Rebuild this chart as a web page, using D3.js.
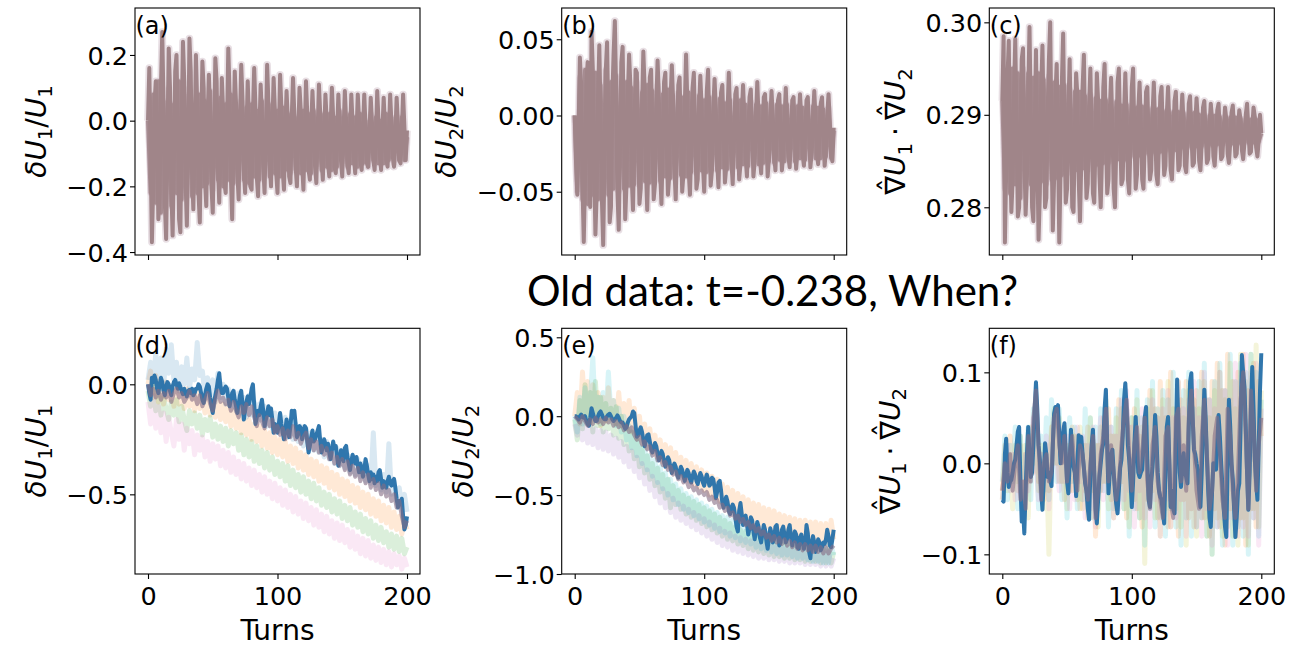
<!DOCTYPE html>
<html><head><meta charset="utf-8">
<script src="https://cdn.jsdelivr.net/npm/d3@7"></script>
<style>body{margin:0;background:#fff}svg{display:block}</style>
</head><body>
<svg id="chart" width="1310" height="646"></svg>
<script>
// ---------------- DATA ----------------
const titleText = "Old data: t=-0.238, When?";
const turnsEvery1 = d3.range(0, 201);
const turnsEvery2 = d3.range(0, 201, 2);
const xTickValues = [0, 100, 200];

const aTicks = [0.2, 0.0, -0.2, -0.4];   const aTickLabels = ["0.2", "0.0", "\u22120.2", "\u22120.4"];
const bTicks = [0.05, 0.0, -0.05];       const bTickLabels = ["0.05", "0.00", "\u22120.05"];
const cTicks = [0.30, 0.29, 0.28];       const cTickLabels = ["0.30", "0.29", "0.28"];
const dTicks = [0.0, -0.5];              const dTickLabels = ["0.0", "\u22120.5"];
const eTicks = [0.5, 0.0, -0.5, -1.0];   const eTickLabels = ["0.5", "0.0", "\u22120.5", "\u22121.0"];
const fTicks = [0.1, 0.0, -0.1];         const fTickLabels = ["0.1", "0.0", "\u22120.1"];

// (a) dU1/U1, upper row (every turn)
const aMain = [
0.00,0.16,-0.10,-0.37,-0.20,0.05,0.12,-0.05,-0.30,-0.22,
0.10,0.27,0.05,-0.25,-0.36,-0.08,0.22,0.10,-0.20,-0.35,
-0.12,0.15,0.20,-0.02,-0.30,-0.34,0.00,0.24,0.12,-0.18,
-0.32,-0.10,0.25,0.15,-0.15,-0.27,-0.05,0.20,0.05,-0.22,
-0.31,-0.05,0.18,0.10,-0.18,-0.26,0.00,0.14,0.02,-0.20,
-0.28,-0.06,0.19,0.12,-0.14,-0.25,-0.08,0.13,0.03,-0.19,
-0.22,-0.02,0.22,0.08,-0.17,-0.30,-0.05,0.15,0.05,-0.16,
-0.24,0.00,0.17,0.06,-0.15,-0.22,-0.04,0.12,0.00,-0.20,
-0.21,0.02,0.16,0.04,-0.17,-0.23,-0.03,0.11,0.01,-0.14,
-0.22,-0.04,0.17,0.05,-0.13,-0.20,-0.02,0.13,0.03,-0.16,
-0.22,-0.05,0.14,0.04,-0.15,-0.21,-0.03,0.09,0.00,-0.17,
-0.19,0.01,0.13,0.02,-0.14,-0.20,-0.04,0.10,0.03,-0.13,
-0.21,-0.05,0.12,0.02,-0.15,-0.18,-0.02,0.09,-0.01,-0.14,
-0.19,-0.03,0.11,0.02,-0.12,-0.18,-0.05,0.08,0.00,-0.13,
-0.17,-0.02,0.10,0.01,-0.14,-0.16,-0.04,0.08,-0.02,-0.12,
-0.17,-0.03,0.09,0.00,-0.13,-0.16,-0.05,0.08,-0.01,-0.11,
-0.16,-0.04,0.08,0.00,-0.12,-0.15,-0.03,0.08,-0.02,-0.13,
-0.14,-0.04,0.07,-0.01,-0.12,-0.15,-0.05,0.09,0.00,-0.10,
-0.15,-0.03,0.07,-0.02,-0.12,-0.14,-0.04,0.08,-0.01,-0.11,
-0.14,-0.04,0.07,-0.01,-0.12,-0.13,-0.03,0.08,-0.02,-0.12,
-0.03];
// (a) other runs (every 2 turns)
const aRun2 = [
0.00,-0.22,0.08,-0.25,0.12,-0.28,0.06,-0.20,0.10,-0.26,
0.05,-0.22,0.12,-0.24,0.08,-0.20,0.10,-0.23,0.04,-0.22,
0.08,-0.20,0.06,-0.19,0.09,-0.21,0.04,-0.18,0.07,-0.20,
0.05,-0.18,0.08,-0.19,0.03,-0.17,0.06,-0.18,0.04,-0.19,
0.05,-0.17,0.03,-0.18,0.06,-0.16,0.02,-0.17,0.05,-0.16,
0.03,-0.17,0.04,-0.15,0.02,-0.16,0.04,-0.15,0.01,-0.16,
0.03,-0.15,0.02,-0.16,0.03,-0.14,0.01,-0.15,0.02,-0.14,
0.02,-0.15,0.01,-0.14,0.03,-0.13,0.00,-0.14,0.02,-0.13,
0.01,-0.14,0.02,-0.13,0.00,-0.14,0.02,-0.12,0.01,-0.13,
0.00,-0.13,0.02,-0.12,0.01,-0.13,0.00,-0.12,0.01,-0.12,
-0.05];

// (b) dU2/U2, upper row
const bMain = [
0.000,-0.030,-0.052,-0.010,0.038,0.020,-0.045,-0.083,-0.040,0.020,
0.035,-0.010,-0.060,0.055,0.030,-0.030,-0.078,-0.050,0.010,0.046,
0.000,-0.055,-0.085,-0.030,0.030,0.048,-0.005,-0.070,-0.060,0.010,
0.040,0.062,0.015,-0.050,-0.075,-0.020,0.035,0.045,-0.010,-0.068,
-0.045,0.012,0.040,0.020,-0.040,-0.062,-0.020,0.030,0.028,-0.015,
-0.058,-0.048,0.005,0.042,0.018,-0.035,-0.062,-0.025,0.025,0.030,
-0.012,-0.055,-0.045,0.008,0.036,0.012,-0.038,-0.058,-0.020,0.022,
0.028,-0.015,-0.052,-0.040,0.010,0.033,0.010,-0.035,-0.055,-0.018,
0.020,0.025,-0.012,-0.050,-0.038,0.006,0.040,0.008,-0.036,-0.052,
-0.022,0.018,0.028,-0.010,-0.048,-0.042,0.004,0.026,0.006,-0.032,
-0.050,-0.020,0.016,0.030,-0.008,-0.046,-0.036,0.004,0.024,0.004,
-0.030,-0.047,-0.018,0.015,0.020,-0.010,-0.044,-0.034,0.002,0.028,
0.002,-0.030,-0.045,-0.016,0.014,0.018,-0.012,-0.042,-0.032,0.000,
0.020,0.000,-0.028,-0.040,-0.015,0.012,0.017,-0.012,-0.040,-0.030,
0.000,0.022,-0.002,-0.028,-0.038,-0.014,0.012,0.014,-0.012,-0.040,
-0.028,-0.002,0.016,-0.002,-0.026,-0.036,-0.012,0.010,0.014,-0.012,
-0.036,-0.026,-0.002,0.018,-0.004,-0.027,-0.034,-0.012,0.010,0.012,
-0.012,-0.035,-0.024,-0.002,0.014,-0.002,-0.026,-0.033,-0.010,0.010,
0.012,-0.012,-0.034,-0.024,-0.002,0.016,-0.002,-0.025,-0.032,-0.012,
0.008,0.012,-0.012,-0.033,-0.022,0.000,0.014,-0.004,-0.026,-0.030,
-0.008];
const bRun2 = [
0.000,-0.050,0.025,-0.055,0.030,-0.058,0.022,-0.052,0.028,-0.055,
0.020,-0.050,0.030,-0.052,0.022,-0.048,0.026,-0.050,0.018,-0.048,
0.022,-0.046,0.018,-0.045,0.022,-0.046,0.015,-0.043,0.020,-0.044,
0.016,-0.042,0.020,-0.043,0.014,-0.040,0.017,-0.041,0.013,-0.040,
0.015,-0.039,0.012,-0.040,0.015,-0.037,0.010,-0.038,0.013,-0.036,
0.010,-0.037,0.012,-0.035,0.009,-0.036,0.011,-0.034,0.008,-0.035,
0.010,-0.033,0.008,-0.034,0.010,-0.032,0.007,-0.033,0.009,-0.031,
0.007,-0.032,0.006,-0.031,0.008,-0.030,0.005,-0.031,0.007,-0.029,
0.006,-0.030,0.007,-0.029,0.005,-0.030,0.006,-0.028,0.005,-0.029,
0.004,-0.029,0.006,-0.028,0.005,-0.028,0.004,-0.027,0.005,-0.028,
-0.010];

// (c) gradU1 . gradU2, upper row
const cMain = [
0.2915,0.2985,0.2762,0.2840,0.2940,0.2980,0.2860,0.2795,0.2830,0.2920,
0.2982,0.2890,0.2790,0.2800,0.2880,0.2960,0.2972,0.2860,0.2792,0.2830,
0.2920,0.2995,0.2900,0.2800,0.2785,0.2880,0.2970,0.2860,0.2765,0.2815,
0.2925,0.2975,0.2890,0.2800,0.2810,0.2900,0.2960,0.3000,0.2870,0.2775,
0.2830,0.2920,0.2955,0.2870,0.2762,0.2840,0.2935,0.2988,0.2880,0.2805,
0.2820,0.2905,0.2960,0.2885,0.2800,0.2795,0.2880,0.2945,0.2920,0.2830,
0.2785,0.2850,0.2930,0.2965,0.2870,0.2810,0.2825,0.2910,0.2950,0.2880,
0.2815,0.2805,0.2875,0.2945,0.2915,0.2835,0.2800,0.2855,0.2930,0.2955,
0.2875,0.2815,0.2830,0.2905,0.2940,0.2890,0.2820,0.2800,0.2865,0.2935,
0.2950,0.2880,0.2825,0.2830,0.2900,0.2945,0.2895,0.2830,0.2815,0.2870,
0.2930,0.2950,0.2880,0.2820,0.2835,0.2905,0.2935,0.2890,0.2830,0.2820,
0.2870,0.2925,0.2930,0.2870,0.2830,0.2840,0.2900,0.2935,0.2890,0.2835,
0.2825,0.2870,0.2920,0.2930,0.2875,0.2835,0.2845,0.2900,0.2930,0.2890,
0.2840,0.2830,0.2870,0.2915,0.2925,0.2880,0.2840,0.2845,0.2895,0.2922,
0.2890,0.2845,0.2838,0.2870,0.2912,0.2920,0.2880,0.2845,0.2848,0.2890,
0.2918,0.2895,0.2850,0.2840,0.2870,0.2908,0.2915,0.2880,0.2848,0.2852,
0.2888,0.2912,0.2895,0.2855,0.2845,0.2870,0.2905,0.2912,0.2880,0.2852,
0.2855,0.2885,0.2908,0.2895,0.2858,0.2848,0.2870,0.2902,0.2910,0.2882,
0.2855,0.2858,0.2885,0.2905,0.2895,0.2862,0.2852,0.2870,0.2900,0.2912,
0.2885,0.2858,0.2860,0.2885,0.2908,0.2898,0.2865,0.2855,0.2872,0.2900,
0.2880];
const cRun2 = [
0.2915,0.2820,0.2940,0.2815,0.2950,0.2825,0.2945,0.2810,0.2950,0.2820,
0.2945,0.2825,0.2940,0.2820,0.2945,0.2828,0.2938,0.2825,0.2942,0.2830,
0.2935,0.2832,0.2930,0.2835,0.2932,0.2838,0.2928,0.2836,0.2925,0.2840,
0.2925,0.2842,0.2920,0.2840,0.2922,0.2845,0.2918,0.2846,0.2915,0.2848,
0.2916,0.2848,0.2913,0.2850,0.2914,0.2852,0.2910,0.2851,0.2911,0.2854,
0.2910,0.2855,0.2908,0.2856,0.2909,0.2858,0.2906,0.2857,0.2907,0.2859,
0.2906,0.2860,0.2904,0.2861,0.2905,0.2862,0.2903,0.2862,0.2903,0.2864,
0.2902,0.2864,0.2901,0.2865,0.2902,0.2866,0.2900,0.2866,0.2900,0.2867,
0.2899,0.2867,0.2899,0.2868,0.2898,0.2868,0.2898,0.2869,0.2897,0.2869,
0.2897,0.2869,0.2896,0.2870,0.2896,0.2870,0.2895,0.2870,0.2895,0.2871,
0.2880];

// (d) dU1/U1, lower row: highlighted run (every turn)
const dBlue = [
0.000,-0.040,-0.070,0.030,0.010,0.040,0.020,-0.020,-0.040,0.000,
0.030,0.010,-0.030,-0.050,-0.010,0.010,0.000,-0.030,-0.050,-0.010,
0.010,0.020,0.000,-0.020,0.005,-0.010,-0.030,-0.045,-0.020,-0.040,
-0.055,-0.030,-0.025,-0.040,-0.020,-0.050,-0.040,-0.020,-0.020,0.000,
-0.010,-0.040,-0.070,-0.085,-0.050,-0.020,0.000,-0.010,-0.060,-0.100,
-0.130,-0.080,-0.050,-0.020,0.020,0.050,-0.010,-0.040,-0.040,-0.020,
-0.010,-0.020,-0.060,-0.100,-0.070,-0.040,-0.030,-0.070,-0.100,-0.130,
-0.090,-0.050,-0.030,-0.090,-0.160,-0.120,-0.080,-0.055,-0.090,-0.060,
-0.020,0.000,-0.090,-0.180,-0.150,-0.120,-0.140,-0.100,-0.070,-0.120,
-0.190,-0.160,-0.130,-0.100,-0.140,-0.110,-0.160,-0.220,-0.180,-0.200,
-0.220,-0.180,-0.130,-0.180,-0.220,-0.250,-0.210,-0.160,-0.200,-0.240,
-0.190,-0.120,-0.150,-0.120,-0.180,-0.240,-0.220,-0.190,-0.200,-0.250,
-0.220,-0.190,-0.200,-0.260,-0.310,-0.280,-0.240,-0.210,-0.260,-0.250,
-0.230,-0.210,-0.190,-0.260,-0.310,-0.280,-0.250,-0.270,-0.300,-0.270,
-0.310,-0.340,-0.300,-0.260,-0.290,-0.280,-0.330,-0.370,-0.340,-0.300,
-0.310,-0.350,-0.290,-0.280,-0.330,-0.360,-0.390,-0.350,-0.320,-0.340,
-0.360,-0.330,-0.370,-0.400,-0.360,-0.380,-0.420,-0.390,-0.340,-0.370,
-0.410,-0.440,-0.400,-0.430,-0.410,-0.450,-0.420,-0.440,-0.400,-0.390,
-0.430,-0.470,-0.440,-0.460,-0.470,-0.440,-0.420,-0.450,-0.460,-0.440,
-0.430,-0.470,-0.520,-0.560,-0.530,-0.540,-0.520,-0.600,-0.660,-0.640,
-0.600];
// (d) other runs (every 2 turns)
const dMauve = [
0.00,-0.05,-0.02,-0.06,-0.03,-0.07,-0.04,-0.06,-0.03,-0.08,
-0.04,-0.02,-0.06,-0.04,-0.08,-0.06,-0.03,-0.07,-0.05,-0.09,
-0.05,-0.10,-0.07,-0.04,-0.09,-0.12,-0.07,-0.03,-0.08,-0.06,
-0.09,-0.07,-0.12,-0.08,-0.12,-0.15,-0.10,-0.13,-0.09,-0.14,
-0.10,-0.15,-0.19,-0.14,-0.17,-0.20,-0.15,-0.19,-0.16,-0.22,
-0.19,-0.23,-0.20,-0.25,-0.21,-0.24,-0.19,-0.25,-0.22,-0.27,
-0.24,-0.22,-0.29,-0.25,-0.30,-0.26,-0.31,-0.28,-0.32,-0.29,
-0.34,-0.31,-0.36,-0.33,-0.37,-0.34,-0.39,-0.35,-0.41,-0.37,
-0.42,-0.38,-0.44,-0.40,-0.45,-0.41,-0.47,-0.43,-0.48,-0.45,
-0.50,-0.46,-0.51,-0.48,-0.53,-0.50,-0.56,-0.53,-0.60,-0.65,
-0.62];
const dOrange = [
0.00,0.06,-0.06,0.04,-0.08,0.02,-0.09,0.01,-0.07,-0.01,
-0.10,-0.02,-0.09,-0.03,-0.11,-0.02,-0.10,-0.04,-0.12,-0.03,
-0.11,-0.05,-0.13,-0.06,-0.14,-0.07,-0.15,-0.08,-0.16,-0.09,
-0.17,-0.10,-0.19,-0.12,-0.20,-0.13,-0.22,-0.15,-0.23,-0.16,
-0.25,-0.18,-0.26,-0.19,-0.28,-0.21,-0.29,-0.22,-0.31,-0.24,
-0.32,-0.25,-0.33,-0.26,-0.35,-0.28,-0.36,-0.29,-0.38,-0.31,
-0.39,-0.32,-0.41,-0.34,-0.42,-0.35,-0.44,-0.37,-0.45,-0.38,
-0.47,-0.40,-0.48,-0.41,-0.50,-0.43,-0.51,-0.44,-0.53,-0.46,
-0.54,-0.47,-0.56,-0.49,-0.57,-0.50,-0.59,-0.52,-0.60,-0.53,
-0.62,-0.55,-0.63,-0.56,-0.65,-0.58,-0.66,-0.60,-0.68,-0.62,
-0.66];
const dGreen = [
-0.03,-0.10,0.00,-0.12,-0.04,-0.14,-0.06,-0.11,-0.16,-0.08,
-0.14,-0.07,-0.17,-0.10,-0.16,-0.21,-0.12,-0.18,-0.13,-0.20,
-0.14,-0.23,-0.16,-0.21,-0.15,-0.24,-0.18,-0.25,-0.19,-0.26,
-0.20,-0.28,-0.21,-0.27,-0.22,-0.30,-0.23,-0.32,-0.25,-0.33,
-0.26,-0.35,-0.28,-0.36,-0.30,-0.38,-0.31,-0.39,-0.33,-0.41,
-0.35,-0.42,-0.36,-0.44,-0.37,-0.46,-0.39,-0.47,-0.41,-0.49,
-0.42,-0.50,-0.44,-0.52,-0.45,-0.53,-0.47,-0.55,-0.49,-0.56,
-0.50,-0.58,-0.52,-0.59,-0.53,-0.61,-0.55,-0.62,-0.56,-0.64,
-0.58,-0.65,-0.59,-0.67,-0.61,-0.68,-0.62,-0.70,-0.64,-0.71,
-0.65,-0.72,-0.67,-0.74,-0.68,-0.75,-0.69,-0.76,-0.70,-0.77,
-0.74];
const dPink = [
-0.08,-0.18,-0.05,-0.20,-0.10,-0.22,-0.13,-0.26,-0.15,-0.22,
-0.28,-0.16,-0.25,-0.18,-0.30,-0.20,-0.27,-0.21,-0.32,-0.23,
-0.30,-0.24,-0.33,-0.26,-0.35,-0.27,-0.34,-0.28,-0.37,-0.30,
-0.38,-0.31,-0.40,-0.33,-0.41,-0.35,-0.43,-0.36,-0.44,-0.38,
-0.46,-0.39,-0.47,-0.41,-0.49,-0.42,-0.50,-0.44,-0.52,-0.45,
-0.53,-0.47,-0.55,-0.48,-0.56,-0.50,-0.58,-0.51,-0.59,-0.53,
-0.61,-0.54,-0.62,-0.56,-0.64,-0.57,-0.65,-0.59,-0.67,-0.60,
-0.68,-0.62,-0.70,-0.63,-0.71,-0.64,-0.72,-0.66,-0.74,-0.67,
-0.75,-0.69,-0.77,-0.70,-0.78,-0.71,-0.79,-0.73,-0.80,-0.74,
-0.81,-0.75,-0.82,-0.76,-0.83,-0.77,-0.82,-0.78,-0.84,-0.79,
-0.83];
const dLightBlue = [
0.02,0.10,0.00,0.14,0.03,0.12,-0.02,0.16,0.05,0.18,
0.02,0.10,-0.03,0.08,0.00,0.12,-0.02,0.07,0.02,0.19,
0.04,0.06,-0.05,0.03,-0.04,0.02,-0.08,0.05,-0.06,0.00,
-0.09,-0.02,-0.10,-0.03,-0.12,-0.04,-0.13,-0.06,-0.15,-0.05,
-0.14,-0.08,-0.17,-0.09,-0.16,-0.10,-0.19,-0.11,-0.20,-0.13,
-0.21,-0.14,-0.22,-0.15,-0.24,-0.16,-0.25,-0.18,-0.26,-0.19,
-0.28,-0.20,-0.29,-0.22,-0.30,-0.23,-0.31,-0.25,-0.33,-0.26,
-0.34,-0.28,-0.36,-0.29,-0.37,-0.30,-0.38,-0.32,-0.40,-0.33,
-0.41,-0.34,-0.42,-0.36,-0.44,-0.37,-0.45,-0.22,-0.46,-0.40,
-0.48,-0.41,-0.49,-0.27,-0.50,-0.44,-0.53,-0.47,-0.55,-0.50,
-0.58];

// (e) dU2/U2, lower row
const eBlue = [
0.000,0.000,-0.010,-0.020,0.000,0.010,-0.005,-0.010,0.000,-0.030,
-0.050,-0.060,-0.010,0.050,0.020,-0.010,-0.030,-0.030,0.000,0.020,
0.030,0.010,-0.010,-0.020,-0.020,0.000,0.010,0.015,0.000,-0.020,
-0.030,-0.020,-0.010,0.005,-0.010,-0.030,-0.040,-0.040,-0.060,-0.080,
-0.070,-0.040,-0.020,-0.010,0.000,0.030,0.020,-0.060,-0.130,-0.120,
-0.090,-0.070,-0.100,-0.150,-0.190,-0.160,-0.120,-0.115,-0.160,-0.210,
-0.230,-0.200,-0.170,-0.190,-0.240,-0.280,-0.250,-0.220,-0.240,-0.290,
-0.320,-0.290,-0.260,-0.280,-0.330,-0.360,-0.320,-0.300,-0.320,-0.370,
-0.390,-0.350,-0.320,-0.340,-0.380,-0.410,-0.370,-0.340,-0.360,-0.400,
-0.420,-0.380,-0.350,-0.370,-0.410,-0.430,-0.390,-0.360,-0.380,-0.420,
-0.440,-0.400,-0.370,-0.400,-0.440,-0.430,-0.390,-0.400,-0.450,-0.520,
-0.480,-0.420,-0.410,-0.470,-0.550,-0.580,-0.540,-0.510,-0.540,-0.600,
-0.620,-0.580,-0.560,-0.580,-0.640,-0.700,-0.730,-0.600,-0.550,-0.620,
-0.690,-0.660,-0.630,-0.680,-0.750,-0.710,-0.640,-0.660,-0.730,-0.780,
-0.720,-0.670,-0.700,-0.770,-0.800,-0.740,-0.690,-0.720,-0.790,-0.840,
-0.770,-0.710,-0.740,-0.800,-0.780,-0.700,-0.690,-0.760,-0.820,-0.800,
-0.720,-0.700,-0.750,-0.800,-0.780,-0.720,-0.690,-0.760,-0.820,-0.780,
-0.730,-0.750,-0.830,-0.840,-0.770,-0.750,-0.800,-0.840,-0.800,-0.690,
-0.740,-0.860,-0.900,-0.800,-0.760,-0.800,-0.860,-0.820,-0.780,-0.800,
-0.850,-0.830,-0.800,-0.810,-0.780,-0.720,-0.760,-0.820,-0.830,-0.780,
-0.720];
const eMauve = [
0.00,-0.02,-0.04,0.00,-0.03,-0.06,-0.02,-0.05,-0.01,-0.04,
-0.02,-0.05,-0.01,-0.04,-0.02,-0.06,-0.03,-0.07,-0.04,-0.09,
-0.06,-0.10,-0.07,-0.12,-0.15,-0.13,-0.18,-0.16,-0.21,-0.19,
-0.25,-0.22,-0.28,-0.26,-0.31,-0.29,-0.34,-0.32,-0.37,-0.35,
-0.40,-0.38,-0.42,-0.40,-0.45,-0.43,-0.47,-0.45,-0.49,-0.47,
-0.50,-0.48,-0.53,-0.51,-0.55,-0.53,-0.58,-0.56,-0.60,-0.58,
-0.63,-0.61,-0.65,-0.63,-0.67,-0.65,-0.69,-0.67,-0.71,-0.69,
-0.73,-0.71,-0.75,-0.73,-0.77,-0.75,-0.79,-0.76,-0.80,-0.77,
-0.81,-0.78,-0.82,-0.79,-0.83,-0.80,-0.84,-0.81,-0.85,-0.81,
-0.85,-0.82,-0.86,-0.82,-0.86,-0.83,-0.87,-0.83,-0.87,-0.84,
-0.82];
const eOrange = [
0.00,0.15,-0.05,0.28,0.02,0.22,-0.04,0.20,0.00,0.15,
-0.06,0.12,-0.03,0.18,-0.02,0.10,-0.05,0.15,-0.06,0.08,
-0.08,0.10,-0.10,0.05,-0.14,0.00,-0.17,-0.05,-0.20,-0.08,
-0.23,-0.12,-0.26,-0.15,-0.29,-0.18,-0.32,-0.20,-0.34,-0.23,
-0.37,-0.26,-0.39,-0.28,-0.41,-0.30,-0.43,-0.32,-0.45,-0.34,
-0.47,-0.36,-0.50,-0.38,-0.52,-0.40,-0.54,-0.43,-0.56,-0.45,
-0.58,-0.47,-0.60,-0.49,-0.62,-0.51,-0.64,-0.53,-0.66,-0.55,
-0.67,-0.56,-0.69,-0.58,-0.70,-0.59,-0.72,-0.60,-0.73,-0.62,
-0.74,-0.63,-0.75,-0.64,-0.76,-0.65,-0.77,-0.66,-0.78,-0.66,
-0.79,-0.67,-0.80,-0.67,-0.80,-0.68,-0.81,-0.68,-0.82,-0.66,
-0.78];
const eGreen = [
-0.02,-0.15,0.10,-0.08,0.20,-0.05,0.15,-0.10,0.22,-0.06,
0.12,-0.10,0.08,-0.08,0.05,-0.12,0.06,-0.14,0.00,-0.18,
-0.05,-0.22,-0.10,-0.27,-0.15,-0.32,-0.20,-0.36,-0.25,-0.40,
-0.30,-0.44,-0.33,-0.48,-0.37,-0.52,-0.40,-0.58,-0.44,-0.56,
-0.47,-0.59,-0.50,-0.62,-0.52,-0.64,-0.54,-0.66,-0.56,-0.68,
-0.58,-0.70,-0.60,-0.72,-0.62,-0.74,-0.64,-0.76,-0.66,-0.78,
-0.68,-0.79,-0.70,-0.81,-0.72,-0.82,-0.73,-0.84,-0.75,-0.85,
-0.76,-0.86,-0.77,-0.87,-0.78,-0.88,-0.79,-0.89,-0.80,-0.89,
-0.81,-0.90,-0.81,-0.90,-0.82,-0.91,-0.82,-0.91,-0.83,-0.92,
-0.83,-0.92,-0.84,-0.92,-0.84,-0.93,-0.84,-0.93,-0.85,-0.93,
-0.86];
const eCyan = [
0.00,-0.10,0.12,-0.05,0.18,-0.02,0.10,0.37,0.00,0.12,
-0.05,0.15,-0.02,0.28,0.00,0.10,-0.06,0.05,-0.10,0.00,
-0.15,-0.06,-0.20,-0.10,-0.25,-0.15,-0.30,-0.20,-0.34,-0.25,
-0.38,-0.28,-0.42,-0.32,-0.46,-0.36,-0.50,-0.40,-0.53,-0.43,
-0.56,-0.46,-0.59,-0.49,-0.61,-0.51,-0.63,-0.53,-0.65,-0.55,
-0.67,-0.57,-0.69,-0.59,-0.71,-0.61,-0.73,-0.63,-0.74,-0.64,
-0.76,-0.66,-0.77,-0.67,-0.79,-0.69,-0.80,-0.70,-0.81,-0.71,
-0.83,-0.72,-0.84,-0.73,-0.85,-0.74,-0.86,-0.75,-0.87,-0.76,
-0.88,-0.77,-0.88,-0.78,-0.89,-0.79,-0.90,-0.79,-0.90,-0.80,
-0.91,-0.80,-0.92,-0.81,-0.92,-0.81,-0.93,-0.82,-0.93,-0.82,
-0.88];
const ePurple = [
-0.05,-0.12,-0.02,-0.15,-0.04,-0.17,-0.06,-0.18,-0.08,-0.20,
-0.09,-0.21,-0.10,-0.22,-0.12,-0.24,-0.14,-0.26,-0.16,-0.29,
-0.19,-0.32,-0.22,-0.35,-0.26,-0.39,-0.30,-0.43,-0.34,-0.47,
-0.38,-0.51,-0.42,-0.55,-0.46,-0.58,-0.49,-0.61,-0.52,-0.64,
-0.55,-0.66,-0.57,-0.68,-0.59,-0.70,-0.61,-0.72,-0.63,-0.74,
-0.65,-0.76,-0.67,-0.78,-0.69,-0.80,-0.71,-0.82,-0.73,-0.83,
-0.74,-0.85,-0.76,-0.86,-0.77,-0.87,-0.78,-0.88,-0.79,-0.89,
-0.80,-0.90,-0.81,-0.90,-0.81,-0.91,-0.82,-0.91,-0.82,-0.92,
-0.83,-0.92,-0.83,-0.93,-0.84,-0.93,-0.84,-0.93,-0.85,-0.94,
-0.85,-0.94,-0.85,-0.94,-0.86,-0.95,-0.86,-0.95,-0.86,-0.95,
-0.90];

// (f) gradU1 . gradU2, lower row
const fBlue = [
-0.040,-0.042,0.010,0.027,-0.010,-0.026,-0.020,-0.018,-0.010,0.000,
0.004,0.020,0.035,0.040,-0.020,-0.064,-0.050,-0.077,-0.030,0.010,
0.040,0.010,-0.015,-0.010,0.020,0.060,0.089,0.060,0.020,0.004,
-0.030,-0.051,-0.020,0.022,0.010,-0.015,-0.010,-0.018,-0.025,0.020,
0.055,0.062,0.058,0.064,0.030,0.000,0.020,0.035,0.044,0.010,
-0.020,-0.033,0.000,0.037,0.010,-0.004,-0.010,-0.036,0.000,0.031,
0.020,0.029,0.010,-0.005,-0.022,-0.030,-0.050,-0.062,-0.010,0.020,
0.037,-0.010,-0.050,-0.066,-0.040,-0.015,0.000,0.015,0.022,0.060,
0.081,0.020,-0.033,-0.010,0.010,0.015,-0.010,-0.030,-0.045,-0.055,
-0.030,-0.005,0.004,0.030,0.070,0.088,0.060,0.020,0.004,-0.020,
-0.048,-0.020,0.020,0.051,0.020,-0.010,-0.015,-0.010,-0.007,0.020,
0.050,0.062,0.000,-0.040,-0.048,-0.020,-0.004,0.020,0.053,0.030,
-0.010,-0.030,-0.037,-0.040,-0.055,-0.066,-0.010,0.040,0.051,0.000,
-0.048,-0.030,-0.050,-0.055,0.020,0.092,0.040,-0.010,-0.026,0.000,
0.011,-0.010,-0.015,-0.022,0.040,0.090,0.099,0.050,0.015,0.010,
0.000,-0.007,-0.030,-0.048,-0.010,0.040,0.081,0.050,0.007,-0.030,
-0.060,-0.070,-0.030,0.000,-0.005,-0.007,0.020,0.053,0.030,0.000,
-0.026,-0.050,-0.070,-0.081,0.000,0.070,0.040,0.000,-0.018,-0.050,
-0.081,-0.060,-0.030,-0.022,0.040,0.119,0.100,0.084,0.040,-0.010,
-0.051,-0.010,0.060,0.106,0.060,0.004,-0.020,-0.040,0.020,0.080,
0.121];
const fMauve = [
-0.03,0.00,-0.02,0.01,-0.03,0.00,0.02,-0.04,-0.02,-0.05,
0.03,-0.02,0.05,0.08,0.02,-0.04,0.00,0.01,-0.02,-0.01,
0.05,0.06,0.02,0.00,0.03,-0.02,0.01,0.03,-0.01,-0.03,
0.02,0.01,-0.02,-0.04,0.00,0.03,-0.06,-0.03,0.01,0.03,
0.06,-0.02,0.02,-0.01,-0.04,-0.02,0.02,0.05,0.07,0.01,
-0.03,0.02,0.04,-0.01,0.01,0.05,-0.02,-0.05,0.02,0.04,
-0.02,-0.04,-0.06,0.03,0.04,-0.04,-0.06,0.05,0.06,-0.02,
0.02,-0.03,0.05,0.08,0.02,-0.03,-0.05,0.03,0.07,0.01,
-0.05,-0.03,0.03,0.05,0.01,-0.04,-0.06,0.06,0.03,-0.03,
-0.06,-0.01,0.07,0.10,0.03,-0.05,0.08,0.04,-0.03,0.02,
0.05];
const fOrange = [
-0.03,0.02,-0.02,0.03,-0.01,0.01,-0.03,0.02,-0.04,0.01,
-0.02,0.03,-0.01,0.05,-0.02,0.01,-0.04,0.02,-0.03,0.04,
0.00,0.05,-0.02,0.03,-0.04,0.02,-0.03,0.04,-0.02,0.03,
-0.05,0.02,-0.03,0.04,-0.06,0.03,-0.08,0.02,-0.03,0.05,
-0.02,0.06,-0.04,0.03,-0.05,0.07,-0.02,0.05,-0.06,0.04,
-0.03,0.06,-0.05,0.03,-0.07,0.05,-0.04,0.08,-0.03,0.06,
-0.06,0.09,-0.04,0.05,-0.07,0.10,-0.03,0.06,-0.08,0.07,
-0.04,0.09,-0.06,0.05,-0.07,0.08,-0.04,0.10,-0.06,0.07,
-0.08,0.09,-0.05,0.11,-0.07,0.08,-0.09,0.12,-0.05,0.09,
-0.08,0.10,-0.06,0.12,-0.09,0.08,-0.05,0.11,-0.07,0.09,
0.03];
const fOlive = [
-0.04,0.00,-0.03,0.01,-0.05,0.02,-0.02,0.03,-0.05,0.02,
-0.06,0.04,0.00,0.07,-0.03,0.02,-0.05,0.01,-0.10,0.03,
0.06,0.00,0.05,-0.02,0.04,-0.05,0.02,-0.03,0.03,-0.04,
0.04,-0.05,0.02,-0.06,0.05,-0.03,0.02,-0.07,0.04,-0.02,
0.07,-0.05,0.03,-0.06,0.05,-0.03,0.06,-0.05,0.04,-0.07,
0.05,-0.04,0.07,-0.06,0.04,-0.11,0.06,-0.04,0.08,-0.06,
0.05,-0.08,0.07,-0.05,0.09,-0.07,0.06,-0.05,0.09,-0.07,
0.05,-0.09,0.08,-0.05,0.07,-0.08,0.06,-0.06,0.09,-0.08,
0.05,-0.10,0.08,-0.06,0.10,-0.08,0.07,-0.07,0.11,-0.08,
0.06,-0.09,0.12,-0.06,0.09,-0.09,0.12,-0.05,0.13,-0.07,
0.08];
const fCyan = [
-0.02,0.03,-0.04,0.02,-0.02,0.04,-0.05,0.03,-0.06,0.00,
0.04,-0.04,0.06,0.02,-0.05,0.03,-0.03,0.05,-0.04,0.07,
0.03,-0.02,0.06,-0.04,0.03,-0.06,0.05,-0.02,0.04,-0.05,
0.03,-0.04,0.06,-0.03,0.05,-0.06,0.04,-0.05,0.06,-0.03,
0.05,-0.07,0.04,-0.05,0.06,-0.04,0.08,-0.05,0.06,-0.08,
0.05,-0.05,0.08,-0.06,0.05,-0.09,0.07,-0.05,0.09,-0.07,
0.06,-0.06,0.08,-0.08,0.07,-0.05,0.10,-0.07,0.06,-0.09,
0.08,-0.06,0.10,-0.08,0.06,-0.07,0.09,-0.06,0.11,-0.08,
0.07,-0.10,0.09,-0.07,0.11,-0.09,0.08,-0.06,0.12,-0.09,
0.09,-0.07,0.11,-0.08,0.10,-0.10,0.12,-0.06,0.10,-0.08,
0.07];
const fPink = [
-0.04,-0.01,0.02,-0.03,0.01,-0.04,0.02,-0.03,-0.06,0.01,
-0.03,0.02,0.05,0.00,-0.04,0.01,-0.02,0.03,-0.05,0.02,
0.05,0.00,-0.03,0.04,-0.02,0.03,-0.05,0.02,-0.04,0.04,
-0.02,0.03,-0.06,0.02,-0.05,0.04,-0.07,0.01,0.05,-0.04,
0.06,-0.03,0.04,-0.06,0.03,-0.05,0.07,-0.04,0.08,-0.03,
0.04,-0.07,0.05,-0.03,0.06,-0.06,0.04,-0.07,0.07,-0.04,
0.05,-0.08,0.06,-0.04,0.08,-0.07,0.05,-0.06,0.09,-0.04,
0.06,-0.08,0.07,-0.05,0.09,-0.07,0.05,-0.08,0.10,-0.05,
0.07,-0.09,0.06,-0.07,0.10,-0.06,0.08,-0.09,0.07,-0.06,
0.11,-0.08,0.09,-0.07,0.12,-0.08,0.10,-0.06,0.11,-0.09,
0.06];

// ---------------- LAYOUT / STYLE ----------------
const svg = d3.select('#chart');
const PW = 285;
const rows = [{y0: 8, y1: 255}, {y0: 328.3, y1: 574}];
const cols = [135, 561.7, 989.3];
const xDomain = [-10.04, 210.04];
const tickFont = 'DejaVu Sans';
const tickSize = 25.5;
const labelSize = 28;

const upper = (main, run2) => [
  {x: turnsEvery1, data: main, color: '#cdb8c4', w: 7.5, op: 0.45},
  {x: turnsEvery2, data: run2, color: '#c9b2bd', w: 6, op: 0.5},
  {x: turnsEvery2, data: run2, color: '#a08589', w: 4, op: 0.9},
  {x: turnsEvery1, data: main, color: '#a08589', w: 4, op: 1}
];
const faint = (data, color) => ({x: turnsEvery2, data, color, w: 5, op: 0.17});
const bold = (data) => ({x: turnsEvery1, data, color: '#2670a9', w: 4, op: 0.95});
const mauve = (data) => ({x: turnsEvery2, data, color: '#856c84', w: 4, op: 0.6});

const panels = [
  {id:'a', col:0, row:0, dom:[-0.409, 0.343], ticks:aTicks, labels:aTickLabels, ylab:'U1', series: upper(aMain, aRun2)},
  {id:'b', col:1, row:0, dom:[-0.0915, 0.0705], ticks:bTicks, labels:bTickLabels, ylab:'U2', series: upper(bMain, bRun2)},
  {id:'c', col:2, row:0, dom:[0.27484, 0.30155], ticks:cTicks, labels:cTickLabels, ylab:'dot', series: upper(cMain, cRun2)},
  {id:'d', col:0, row:1, dom:[-0.862, 0.2545], ticks:dTicks, labels:dTickLabels, ylab:'U1',
    series:[faint(dOrange,'#ff7f0e'), faint(dGreen,'#2ca02c'), faint(dPink,'#e377c2'), faint(dLightBlue,'#1f77b4'), bold(dBlue), mauve(dMauve)]},
  {id:'e', col:1, row:1, dom:[-1.0, 0.557], ticks:eTicks, labels:eTickLabels, ylab:'U2',
    series:[faint(eOrange,'#ff7f0e'), faint(eGreen,'#2ca02c'), faint(eCyan,'#17becf'), faint(ePurple,'#9467bd'), bold(eBlue), mauve(eMauve)]},
  {id:'f', col:2, row:1, dom:[-0.1216, 0.1484], ticks:fTicks, labels:fTickLabels, ylab:'dot',
    series:[faint(fOrange,'#ff7f0e'), faint(fOlive,'#bcbd22'), faint(fCyan,'#17becf'), faint(fPink,'#e377c2'), bold(fBlue), mauve(fMauve)]}
];

const ylabelParts = {
  U1: [['δU','i'],['1','s'],['/','r'],['U','i'],['1','s']],
  U2: [['δU','i'],['2','s'],['/','r'],['U','i'],['2','s']],
  dot: [['∇','r'],['U','i'],['1','s'],['\u2005·\u2005','r'],['∇','r'],['U','i'],['2','s']]
};

const defs = svg.append('defs');

panels.forEach(p => {
  const x0 = cols[p.col], y0 = rows[p.row].y0, y1 = rows[p.row].y1;
  const x = d3.scaleLinear().domain(xDomain).range([x0, x0 + PW]);
  const y = d3.scaleLinear().domain(p.dom).range([y1, y0]);
  const g = svg.append('g');

  defs.append('clipPath').attr('id', 'clip-' + p.id)
    .append('rect').attr('x', x0).attr('y', y0).attr('width', PW).attr('height', y1 - y0);
  const lg = g.append('g').attr('clip-path', `url(#clip-${p.id})`);
  const line = d3.line().x(d => x(d[0])).y(d => y(d[1]));
  p.series.forEach(s => {
    const pts = s.data.map((v, i) => [s.x[i], v]);
    lg.append('path').attr('d', line(pts)).attr('fill', 'none')
      .attr('stroke', s.color).attr('stroke-width', s.w).attr('stroke-opacity', s.op)
      .attr('stroke-linejoin', 'round').attr('stroke-linecap', 'butt');
  });

  g.append('rect').attr('x', x0).attr('y', y0).attr('width', PW).attr('height', y1 - y0)
    .attr('fill', 'none').attr('stroke', '#000').attr('stroke-width', 1.1);

  const ya = g.append('g').attr('transform', `translate(${x0},0)`)
    .call(d3.axisLeft(y).tickValues(p.ticks).tickFormat((d, i) => p.labels[i]).tickSize(5).tickSizeOuter(0));
  ya.select('.domain').remove();
  ya.selectAll('line').attr('stroke', '#000').attr('stroke-width', 1.1);
  ya.selectAll('text').attr('font-family', tickFont).attr('font-size', tickSize).attr('fill', '#000')
    .attr('x', -7).attr('dy', '0.36em');

  const xa = g.append('g').attr('transform', `translate(0,${y1})`)
    .call(d3.axisBottom(x).tickValues(xTickValues).tickFormat(d => p.row === 1 ? String(d) : '').tickSize(5).tickSizeOuter(0));
  xa.select('.domain').remove();
  xa.selectAll('line').attr('stroke', '#000').attr('stroke-width', 1.1);
  xa.selectAll('text').attr('font-family', tickFont).attr('font-size', tickSize).attr('fill', '#000')
    .attr('y', 31).attr('dy', 0);

  if (p.row === 1) {
    g.append('text').attr('x', x0 + PW / 2).attr('y', 640).attr('text-anchor', 'middle')
      .attr('font-family', tickFont).attr('font-size', labelSize).attr('fill', '#000').text('Turns');
  }

  g.append('text').attr('x', x0 + 0.5).attr('y', y0 + 25.5).attr('font-family', tickFont)
    .attr('font-size', 24).attr('fill', '#000').text('(' + p.id + ')');

  let minLeft = Infinity;
  ya.selectAll('text').each(function () { const b = this.getBBox(); minLeft = Math.min(minLeft, x0 + b.x); });
  const lab = g.append('g');
  const t = lab.append('text').attr('font-family', tickFont).attr('font-size', labelSize)
    .attr('text-anchor', 'middle').attr('fill', '#000');
  const sh = labelSize * 0.22;
  let shifted = false;
  const parts = ylabelParts[p.ylab];
  parts.forEach(([s, st]) => {
    const ts = t.append('tspan').text(s);
    if (st === 'i') ts.attr('font-style', 'italic');
    if (st === 's') { ts.attr('font-size', labelSize * 0.7).attr('dy', sh); shifted = true; }
    else if (shifted) { ts.attr('dy', -sh); shifted = false; }
  });
  const full = parts.map(q => q[0]).join('');
  for (let i = 0; i < full.length; i++) {
    if (full[i] === '∇') {
      const ext = t.node().getExtentOfChar(i);
      lab.append('text').attr('x', ext.x + ext.width / 2).attr('y', -labelSize * 0.2)
        .attr('text-anchor', 'middle').attr('font-family', tickFont).attr('font-size', labelSize)
        .attr('fill', '#000').text('\u02C6');
    }
  }
  const bb = t.node().getBBox();
  const cx = minLeft - 9 - (bb.y + bb.height);
  lab.attr('transform', `translate(${cx},${(y0 + y1) / 2}) rotate(-90)`);
});

const title = svg.append('text').attr('x', 527).attr('y', 306).attr('font-family', 'Lato')
  .attr('font-size', 100).attr('fill', '#000').attr('xml:space', 'preserve').text(titleText);
const sub = title.node().getSubStringLength(0, 20);
title.attr('font-size', 100 * 361 / sub);
</script>
</body></html>
